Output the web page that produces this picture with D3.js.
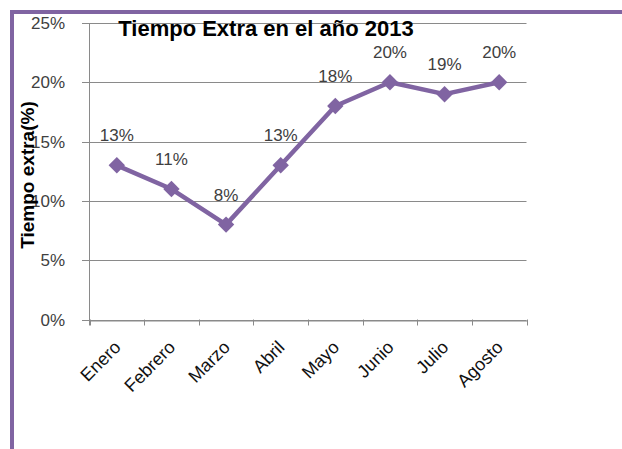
<!DOCTYPE html>
<html>
<head>
<meta charset="utf-8">
<script src="https://cdn.jsdelivr.net/npm/d3@7"></script>
<style>
  body { margin: 0; background: #fff; }
  svg { display: block; }
</style>
</head>
<body>
<script>
// datos del grafico
const meses = ['Enero', 'Febrero', 'Marzo', 'Abril', 'Mayo', 'Junio', 'Julio', 'Agosto']
const valores = [0.13, 0.11, 0.08, 0.13, 0.18, 0.20, 0.19, 0.20]
const etiquetas = ['13%', '11%', '8%', '13%', '18%', '20%', '19%', '20%']
const ticksY = [0, 0.05, 0.10, 0.15, 0.20, 0.25]

const W = 622, H = 449
const morado = '#8064a2'
const gris = '#8a8a8a'

let svg = d3.select('body')
  .append('svg')
  .attr('width', W)
  .attr('height', H)

// marco morado (arriba e izquierda)
svg.append('rect')
  .attr('x', 10).attr('y', 10)
  .attr('width', W - 10).attr('height', 4)
  .attr('fill', morado)
svg.append('rect')
  .attr('x', 10).attr('y', 10)
  .attr('width', 4).attr('height', H - 10)
  .attr('fill', morado)

let x = d3.scaleBand()
  .domain(meses)
  .range([89.5, 526.5])

let y = d3.scaleLinear()
  .domain([0, 0.25])
  .range([319.5, 23])

// lineas de cuadricula
svg.append('g')
  .selectAll('line')
  .data(ticksY)
  .join('line')
  .attr('x1', 82).attr('x2', 526.5)
  .attr('y1', d => Math.round(y(d)) + 0.5)
  .attr('y2', d => Math.round(y(d)) + 0.5)
  .attr('stroke', gris)
  .attr('stroke-width', 1)

// eje Y
svg.append('line')
  .attr('x1', 89.5).attr('x2', 89.5)
  .attr('y1', y(0.25)).attr('y2', y(0) + 6)
  .attr('stroke', gris)

svg.append('g')
  .selectAll('text')
  .data(ticksY)
  .join('text')
  .attr('x', 65)
  .attr('y', d => y(d) + 6)
  .attr('text-anchor', 'end')
  .attr('font-family', 'Liberation Sans, Arial, sans-serif')
  .attr('font-size', 17)
  .attr('fill', '#404040')
  .text(d3.format('.0%'))

// eje X con marcas entre categorias
let xAxis = d3.axisBottom(x).tickSize(0).tickFormat('')
svg.append('g')
  .attr('transform', `translate(0,${Math.round(y(0)) + 0.5})`)
  .call(xAxis)
  .call(g => g.select('.domain').attr('stroke', gris))

let bordes = meses.map(m => x(m)).concat([x.range()[1]])
svg.append('g')
  .selectAll('line')
  .data(bordes)
  .join('line')
  .attr('x1', d => Math.round(d) + 0.5)
  .attr('x2', d => Math.round(d) + 0.5)
  .attr('y1', y(0)).attr('y2', y(0) + 6)
  .attr('stroke', gris)

svg.append('g')
  .selectAll('text')
  .data(meses)
  .join('text')
  .attr('transform', m => `translate(${x(m) + x.bandwidth() / 2 + 5},${y(0) + 29}) rotate(-45)`)
  .attr('text-anchor', 'end')
  .attr('font-family', 'Liberation Sans, Arial, sans-serif')
  .attr('font-size', 18)
  .attr('fill', '#111')
  .text(m => m)

// linea de la serie
let cx = (d, i) => x(meses[i]) + x.bandwidth() / 2

let linea = d3.line()
  .x(cx)
  .y(d => y(d))

svg.append('path')
  .datum(valores)
  .attr('d', linea)
  .attr('fill', 'none')
  .attr('stroke', morado)
  .attr('stroke-width', 4.5)
  .attr('stroke-linejoin', 'round')

svg.append('g')
  .selectAll('path')
  .data(valores)
  .join('path')
  .attr('d', d3.symbol(d3.symbolSquare, 135))
  .attr('transform', (d, i) => `translate(${cx(d, i)},${y(d)}) rotate(45)`)
  .attr('fill', morado)

// etiquetas de datos
svg.append('g')
  .selectAll('text')
  .data(valores)
  .join('text')
  .attr('x', cx)
  .attr('y', d => y(d) - 24)
  .attr('text-anchor', 'middle')
  .attr('font-family', 'Liberation Sans, Arial, sans-serif')
  .attr('font-size', 17)
  .attr('fill', '#404040')
  .text((d, i) => etiquetas[i])

// titulo
svg.append('text')
  .attr('x', 266)
  .attr('y', 36)
  .attr('text-anchor', 'middle')
  .attr('font-family', 'Liberation Sans, Arial, sans-serif')
  .attr('font-weight', 'bold')
  .attr('font-size', 22)
  .attr('fill', '#000')
  .text('Tiempo Extra en el año 2013')

// titulo del eje Y
svg.append('text')
  .attr('transform', 'translate(34,175) rotate(-90)')
  .attr('text-anchor', 'middle')
  .attr('font-family', 'Liberation Sans, Arial, sans-serif')
  .attr('font-weight', 'bold')
  .attr('font-size', 19)
  .attr('fill', '#000')
  .text('Tiempo extra(%)')
</script>
</body>
</html>
